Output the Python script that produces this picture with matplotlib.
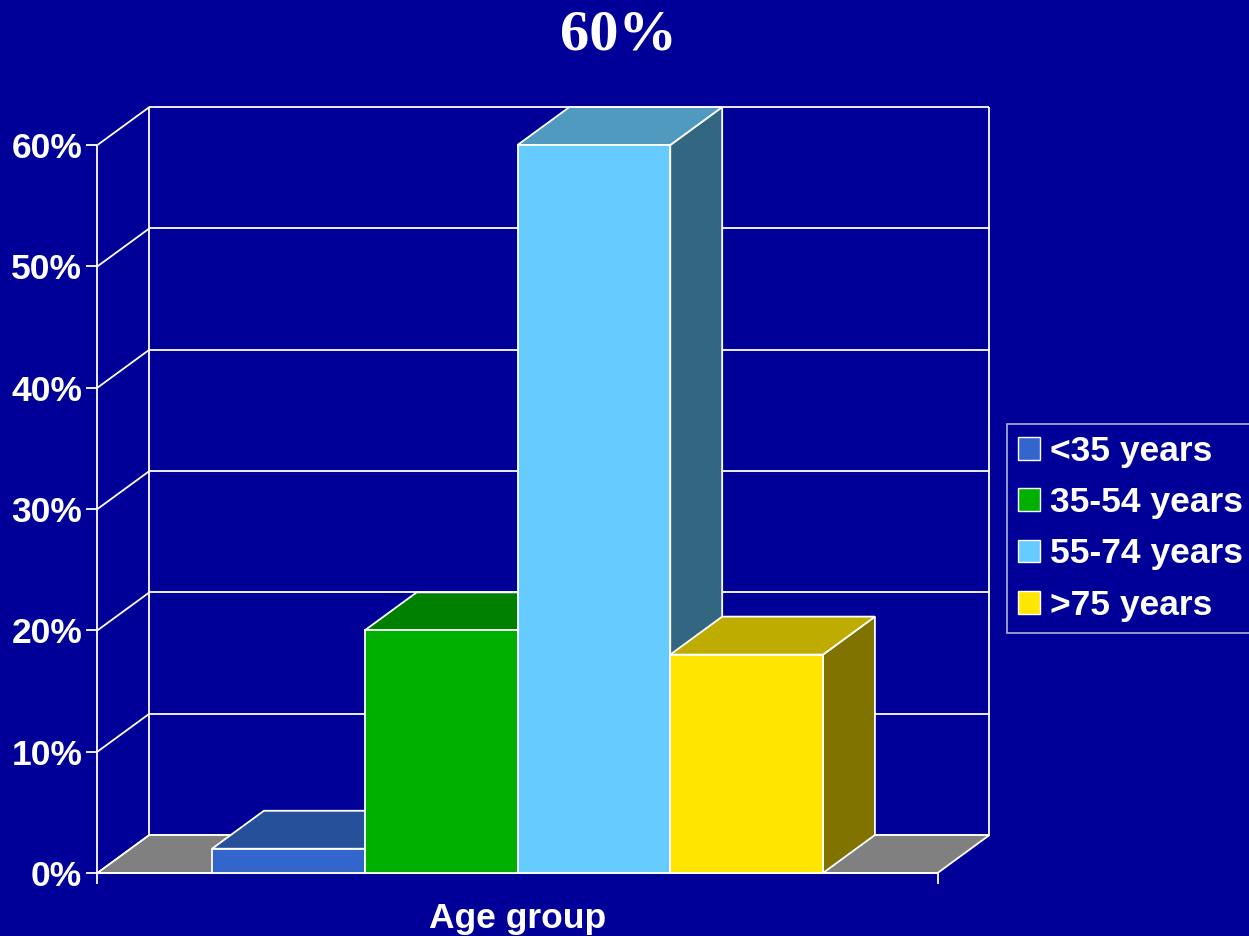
import matplotlib
matplotlib.use("Agg")
import matplotlib.pyplot as plt
from matplotlib.patches import Polygon, Patch

# data
groups = ['<35 years', '35-54 years', '55-74 years', '>75 years']
values = [2, 20, 60, 18]
front_colors = ['#3366CC', '#00B000', '#66CCFF', '#FFE600']
top_colors = ['#26509A', '#008000', '#509ABF', '#BFAC00']
side_colors = ['#1F3F80', '#005800', '#336680', '#807300']
yticks = [0, 10, 20, 30, 40, 50, 60]
ytick_labels = ['0%', '10%', '20%', '30%', '40%', '50%', '60%']

BG = '#000099'
EDGE = 'white'
SANS = 'Liberation Sans'
LW = 1.3

# layout of the pseudo-3D box (bar width = 1 x-unit, y in percent)
W, H = 1249, 936
px_bar = 152.75          # pixels per x-unit
px_pct = 12.133          # pixels per percent
org_x, org_y = 212, 873  # pixel position of first bar's front-left-bottom corner
gap = 0.75               # floor margin each side of the bars
dx, dy = 0.34, 3.13      # depth offset

fig = plt.figure(figsize=(W / 100, H / 100), dpi=100, facecolor=BG)
ax = fig.add_axes([0, 0, 1, 1])
ax.set_facecolor(BG)
ax.set_xlim(-org_x / px_bar, (W - org_x) / px_bar)
ax.set_ylim(-(H - org_y) / px_pct, org_y / px_pct)
ax.set_axis_off()

x0 = -gap
x1 = len(values) + gap
ymax = yticks[-1]


def face(pts, color, z=2):
    ax.add_patch(Polygon(pts, closed=True, facecolor=color, edgecolor=EDGE,
                         lw=LW, joinstyle='miter', zorder=z))


def line(xs, ys, z=1):
    ax.plot(xs, ys, color=EDGE, lw=LW, zorder=z, solid_capstyle='butt')


# walls and gridlines
for t in yticks:
    line([x0 + dx, x1 + dx], [t + dy, t + dy])
    line([x0, x0 + dx], [t, t + dy])
    line([x0 - 0.072, x0], [t, t])
line([x0, x0], [0, ymax])
line([x0 + dx, x0 + dx], [dy, ymax + dy])
line([x1 + dx, x1 + dx], [dy, ymax + dy])

# floor
face([(x0, 0), (x0 + dx, dy), (x1 + dx, dy), (x1, 0)], '#808080', z=1.5)
line([x0, x1], [0, 0], z=1.6)
line([x0, x0], [0, -0.9], z=1.6)
line([x1, x1], [0, -0.9], z=1.6)

# bars, left to right so nearer faces cover hidden ones
for i, v in enumerate(values):
    a, b = i, i + 1
    face([(b, 0), (b + dx, dy), (b + dx, v + dy), (b, v)], side_colors[i], z=2 + i)
    face([(a, v), (a + dx, v + dy), (b + dx, v + dy), (b, v)], top_colors[i], z=2 + i)
    face([(a, 0), (b, 0), (b, v), (a, v)], front_colors[i], z=2 + i)

# tick labels
for t, lab in zip(yticks, ytick_labels):
    ax.text(x0 - 0.1, t, lab, ha='right', va='center_baseline', color='white',
            fontsize=25.5, fontweight='bold', family=SANS)

ax.text(len(values) / 2, -3.75, 'Age group', ha='center', va='center',
        color='white', fontsize=25.5, fontweight='bold', family=SANS)

fig.text(618 / W, 1 - 35 / H, '60%', ha='center', va='center', color='white',
         fontsize=42, fontweight='bold', family='Liberation Serif')

# legend
handles = [Patch(facecolor=c, edgecolor=EDGE, lw=1.0) for c in front_colors]
leg = fig.legend(handles, groups, loc='upper left',
                 bbox_to_anchor=(1007 / W, 1 - 424 / H), bbox_transform=fig.transFigure,
                 borderaxespad=0, frameon=True, fancybox=False,
                 prop={'family': SANS, 'weight': 'bold', 'size': 25.5},
                 handlelength=0.62, handleheight=0.62, handletextpad=0.3,
                 labelspacing=0.52, borderpad=0.3, labelcolor='white')
leg.get_frame().set_facecolor(BG)
leg.get_frame().set_edgecolor('#DDDDDD')
leg.get_frame().set_linewidth(1.2)

fig.savefig('out.png', dpi=100, facecolor=BG)
